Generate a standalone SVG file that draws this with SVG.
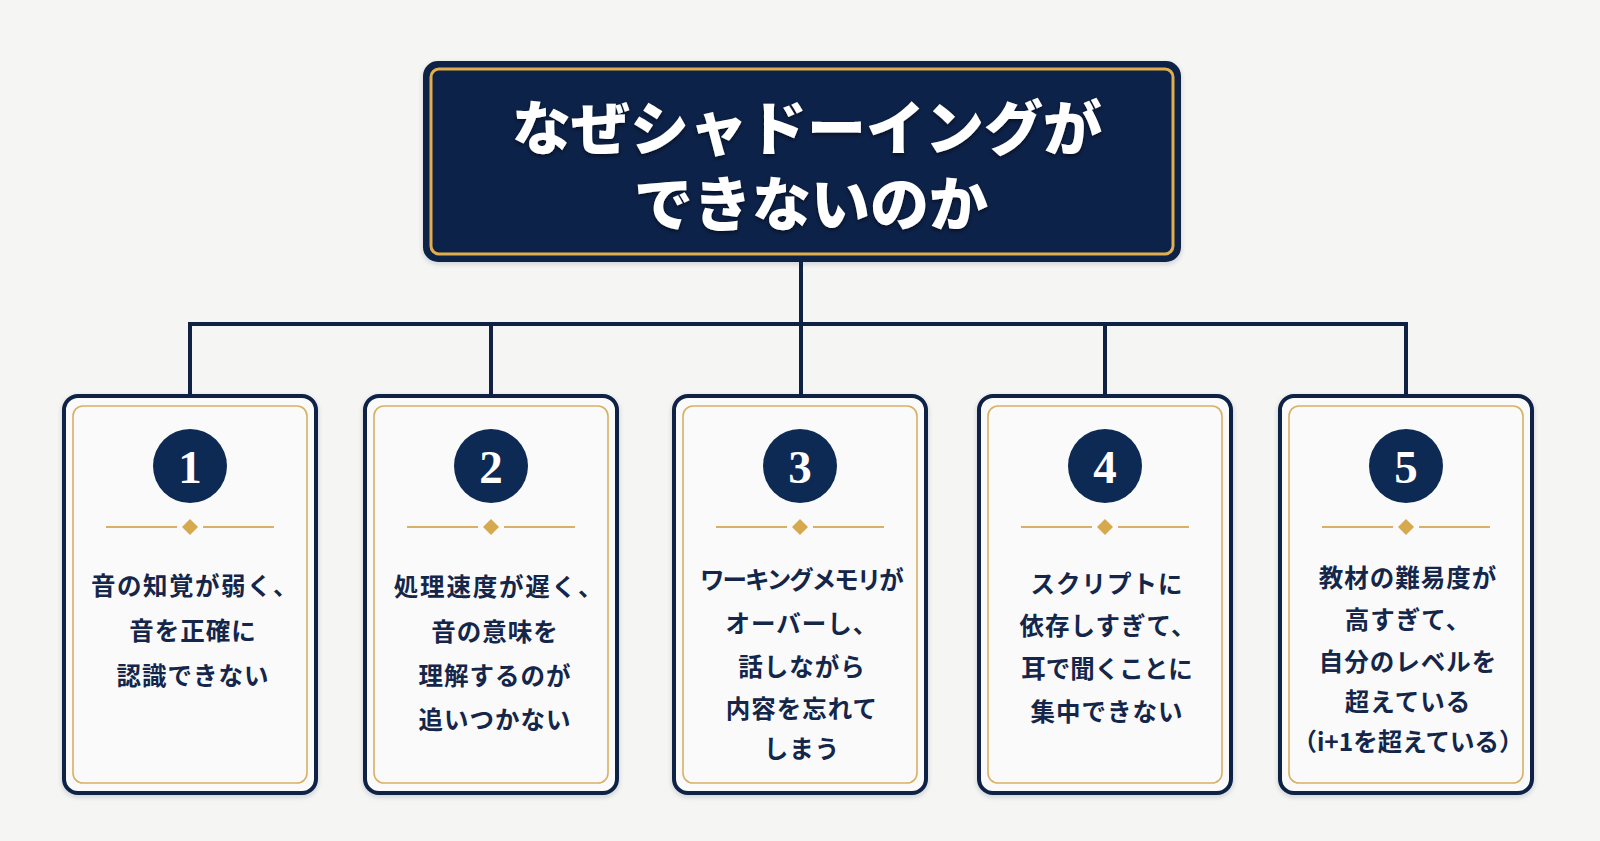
<svg xmlns="http://www.w3.org/2000/svg" width="1600" height="841" viewBox="0 0 1600 841">
<defs>
<style>
.bg{fill:#f5f5f4}
.conn{fill:none;stroke:#0f2244;stroke-width:4;stroke-linejoin:miter;stroke-linecap:butt}
.card{fill:#fafafa;stroke:#0f2244;stroke-width:4}
.cardin{fill:none;stroke:#d8b066;stroke-width:1.6}
.circ{fill:#0d2a55}
.num{font-family:"Liberation Serif",serif;font-weight:bold;font-size:47px;fill:#ffffff;text-anchor:middle}
.div{stroke:#d8b066;stroke-width:1.8}
.dia{fill:#d6a94e}
.txt{font-family:"Noto Sans CJK JP",sans-serif;font-weight:bold;font-size:24.5px;fill:#14264a;text-anchor:middle;letter-spacing:1px}
.title{font-family:"Noto Sans CJK JP",sans-serif;font-weight:900;font-size:59px;fill:#ffffff;text-anchor:middle}
</style>
<filter id="ts" x="-10%" y="-20%" width="120%" height="140%">
<feDropShadow dx="0" dy="2" stdDeviation="2" flood-color="#000" flood-opacity="0.55"/>
</filter>
<filter id="cs" x="-10%" y="-10%" width="120%" height="120%">
<feDropShadow dx="0" dy="2" stdDeviation="2.5" flood-color="#0f2244" flood-opacity="0.18"/>
</filter>
</defs>
<rect class="bg" x="0" y="0" width="1600" height="841"/>

<g id="connectors">
<path class="conn" d="M190,396 V324 H1406 V396"/>
<path class="conn" d="M491,324 V396"/>
<path class="conn" d="M801,258 V396"/>
<path class="conn" d="M1105,324 V396"/>
</g>

<g id="title">
<rect x="425" y="63" width="754" height="197" rx="13" fill="#0b2348" stroke="#0f2244" stroke-width="4" filter="url(#cs)"/>
<rect x="431" y="69" width="742" height="185" rx="8" fill="none" stroke="#e2ad4c" stroke-width="3"/>
<text class="title" filter="url(#ts)"><tspan x="807" y="150">なぜシャドーイングが</tspan><tspan x="811" y="226">できないのか</tspan></text>
</g>

<g id="card1">
<rect class="card" x="64" y="396" width="252" height="397" rx="14" filter="url(#cs)"/>
<rect class="cardin" x="73" y="406" width="234" height="377" rx="10"/>
<circle class="circ" cx="190" cy="466" r="37"/>
<text class="num" x="190" y="483">1</text>
<line class="div" x1="106" y1="527" x2="177" y2="527"/><line class="div" x1="203" y1="527" x2="274" y2="527"/>
<path class="dia" d="M190,519 L198,527 L190,535 L182,527 Z"/>
<text class="txt" x="195" y="595" style="letter-spacing:1.5px">音の知覚が弱く、</text>
<text class="txt" x="193" y="640">音を正確に</text>
<text class="txt" x="193" y="685">認識できない</text>
</g>

<g id="card2">
<rect class="card" x="365" y="396" width="252" height="397" rx="14" filter="url(#cs)"/>
<rect class="cardin" x="374" y="406" width="234" height="377" rx="10"/>
<circle class="circ" cx="491" cy="466" r="37"/>
<text class="num" x="491" y="483">2</text>
<line class="div" x1="407" y1="527" x2="478" y2="527"/><line class="div" x1="504" y1="527" x2="575" y2="527"/>
<path class="dia" d="M491,519 L499,527 L491,535 L483,527 Z"/>
<text class="txt" x="499" y="596" style="letter-spacing:1.8px">処理速度が遅く、</text>
<text class="txt" x="495" y="641">音の意味を</text>
<text class="txt" x="495" y="685">理解するのが</text>
<text class="txt" x="495" y="729">追いつかない</text>
</g>

<g id="card3">
<rect class="card" x="674" y="396" width="252" height="397" rx="14" filter="url(#cs)"/>
<rect class="cardin" x="683" y="406" width="234" height="377" rx="10"/>
<circle class="circ" cx="800" cy="466" r="37"/>
<text class="num" x="800" y="483">3</text>
<line class="div" x1="716" y1="527" x2="787" y2="527"/><line class="div" x1="813" y1="527" x2="884" y2="527"/>
<path class="dia" d="M800,519 L808,527 L800,535 L792,527 Z"/>
<text class="txt" x="801" y="589" style="letter-spacing:-2px">ワーキングメモリが</text>
<text class="txt" x="802" y="633">オーバーし、</text>
<text class="txt" x="802" y="676">話しながら</text>
<text class="txt" x="802" y="718">内容を忘れて</text>
<text class="txt" x="802" y="758">しまう</text>
</g>

<g id="card4">
<rect class="card" x="979" y="396" width="252" height="397" rx="14" filter="url(#cs)"/>
<rect class="cardin" x="988" y="406" width="234" height="377" rx="10"/>
<circle class="circ" cx="1105" cy="466" r="37"/>
<text class="num" x="1105" y="483">4</text>
<line class="div" x1="1021" y1="527" x2="1092" y2="527"/><line class="div" x1="1118" y1="527" x2="1189" y2="527"/>
<path class="dia" d="M1105,519 L1113,527 L1105,535 L1097,527 Z"/>
<text class="txt" x="1107" y="593">スクリプトに</text>
<text class="txt" x="1108" y="635">依存しすぎて、</text>
<text class="txt" x="1107" y="678" style="letter-spacing:0px">耳で聞くことに</text>
<text class="txt" x="1107" y="721">集中できない</text>
</g>

<g id="card5">
<rect class="card" x="1280" y="396" width="252" height="397" rx="14" filter="url(#cs)"/>
<rect class="cardin" x="1289" y="406" width="234" height="377" rx="10"/>
<circle class="circ" cx="1406" cy="466" r="37"/>
<text class="num" x="1406" y="483">5</text>
<line class="div" x1="1322" y1="527" x2="1393" y2="527"/><line class="div" x1="1419" y1="527" x2="1490" y2="527"/>
<path class="dia" d="M1406,519 L1414,527 L1406,535 L1398,527 Z"/>
<text class="txt" x="1408" y="587">教材の難易度が</text>
<text class="txt" x="1408" y="629">高すぎて、</text>
<text class="txt" x="1408" y="671">自分のレベルを</text>
<text class="txt" x="1408" y="711">超えている</text>
<text class="txt" x="1408" y="751" style="letter-spacing:0px">（i+1を超えている）</text>
</g>
</svg>
